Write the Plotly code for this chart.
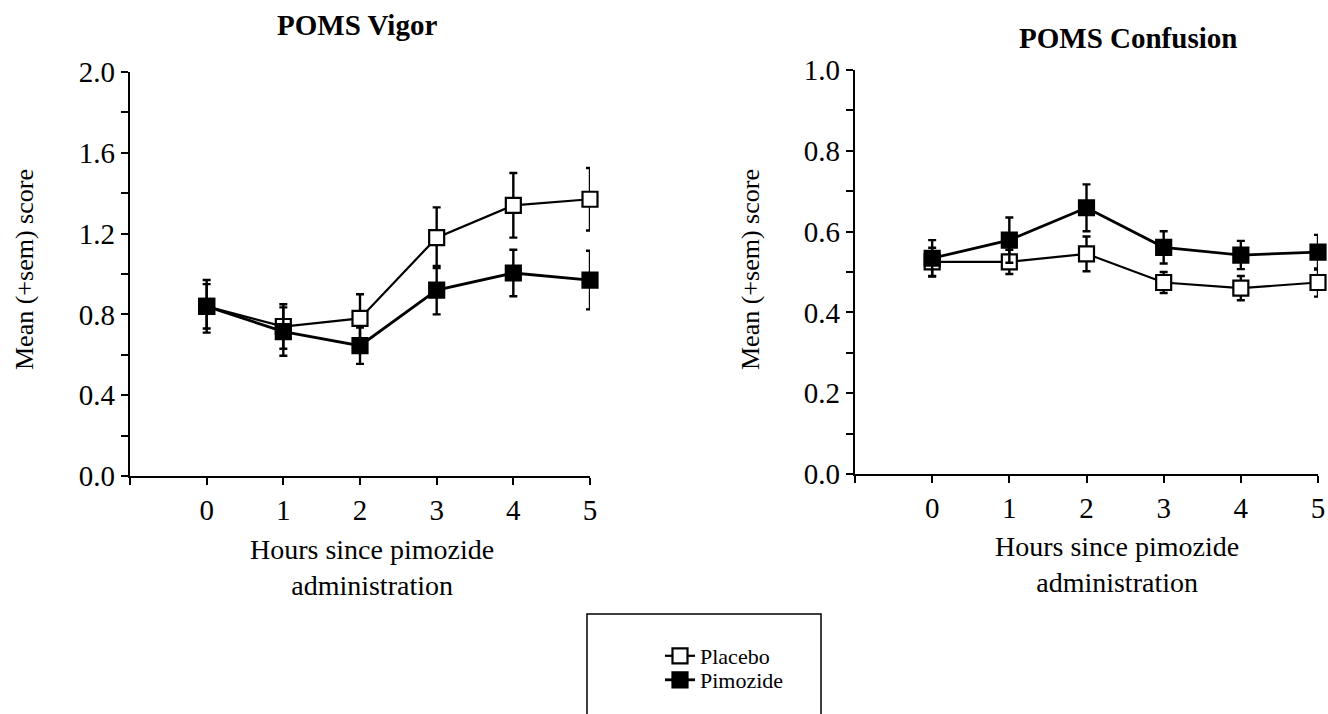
import plotly.graph_objects as go

# ---- data ----
hours = [0, 1, 2, 3, 4, 5]
x_tick_vals = [-1, 0, 1, 2, 3, 4, 5]
x_tick_text = ["", "0", "1", "2", "3", "4", "5"]

vigor_placebo = [0.84, 0.74, 0.78, 1.18, 1.34, 1.37]
vigor_placebo_sem = [0.13, 0.11, 0.12, 0.15, 0.16, 0.155]
vigor_pimozide = [0.84, 0.715, 0.645, 0.92, 1.005, 0.97]
vigor_pimozide_sem = [0.11, 0.12, 0.09, 0.12, 0.115, 0.145]

conf_placebo = [0.525, 0.525, 0.545, 0.474, 0.46, 0.474]
conf_placebo_sem = [0.035, 0.03, 0.043, 0.026, 0.03, 0.035]
conf_pimozide = [0.534, 0.579, 0.659, 0.561, 0.542, 0.549]
conf_pimozide_sem = [0.045, 0.056, 0.058, 0.04, 0.035, 0.043]

W, H = 1328, 714
FONT = "Liberation Serif, Times New Roman, serif"


def px(x):
    return x / W


def py(y):
    return 1 - y / H


fig = go.Figure()


def add_series(y, sem, name, filled, xa, ya, show, legend):
    fig.add_trace(go.Scatter(
        x=hours, y=y, name=name, mode="lines+markers",
        xaxis=xa, yaxis=ya, showlegend=show, legend=legend, cliponaxis=False,
        line=dict(color="black", width=2.8 if filled else 2.2),
        marker=dict(symbol="square", size=15,
                    color="black" if filled else "white",
                    line=dict(color="black", width=2.2)),
        error_y=dict(type="data", array=sem, visible=True,
                     color="black", thickness=2.4, width=4),
    ))


add_series(vigor_placebo, vigor_placebo_sem, "Placebo", False, "x", "y", True, "legend")
add_series(vigor_pimozide, vigor_pimozide_sem, "Pimozide", True, "x", "y", True, "legend2")
add_series(conf_placebo, conf_placebo_sem, "Placebo", False, "x2", "y2", False, "legend")
add_series(conf_pimozide, conf_pimozide_sem, "Pimozide", True, "x2", "y2", False, "legend2")

TICKFONT = dict(family=FONT, size=29, color="black")

xcommon = dict(range=[-1, 5], tickvals=x_tick_vals, ticktext=x_tick_text,
               showline=True, linewidth=2.4, linecolor="black",
               ticks="outside", ticklen=7, tickwidth=2.4, tickcolor="black",
               showgrid=False, zeroline=False, automargin=False,
               ticklabeloverflow="allow", tickfont=TICKFONT)

ycommon = dict(tick0=0, tickformat=".1f",
               showline=True, linewidth=2.4, linecolor="black",
               ticks="outside", ticklen=7, tickwidth=2.4, tickcolor="black",
               showgrid=False, zeroline=False, automargin=False,
               tickfont=TICKFONT)

LEGFONT = dict(family=FONT, size=22, color="black")

fig.update_layout(
    template="none",
    width=W, height=H,
    margin=dict(l=0, r=0, t=0, b=0, autoexpand=False),
    paper_bgcolor="white", plot_bgcolor="white",
    font=dict(family=FONT, color="black"),
    xaxis=dict(domain=[px(130), px(590)], anchor="y", **xcommon),
    xaxis2=dict(domain=[px(855), px(1318)], anchor="y2", **xcommon),
    yaxis=dict(domain=[py(476), py(72)], anchor="x", range=[0, 2], dtick=0.4,
               minor=dict(dtick=0.2, ticks="outside", ticklen=7,
                          tickwidth=2.4, tickcolor="black"),
               **ycommon),
    yaxis2=dict(domain=[py(474), py(70)], anchor="x2", range=[0, 1], dtick=0.2,
                minor=dict(dtick=0.1, ticks="outside", ticklen=7,
                           tickwidth=2.4, tickcolor="black"),
                **ycommon),
    legend=dict(x=px(660), y=py(656), xanchor="left", yanchor="middle",
                bgcolor="rgba(0,0,0,0)", borderwidth=0, font=LEGFONT),
    legend2=dict(x=px(660), y=py(680), xanchor="left", yanchor="middle",
                 bgcolor="rgba(0,0,0,0)", borderwidth=0, font=LEGFONT),
    showlegend=True,
)

annos = [
    dict(text="<b>POMS Vigor</b>", x=px(357), y=py(25), size=29),
    dict(text="<b>POMS Confusion</b>", x=px(1128), y=py(38), size=29),
    dict(text="Hours since pimozide<br>administration", x=px(372), y=py(567), size=28),
    dict(text="Hours since pimozide<br>administration", x=px(1117), y=py(564), size=28),
]
for a in annos:
    fig.add_annotation(text=a["text"], x=a["x"], y=a["y"], xref="paper", yref="paper",
                       xanchor="center", yanchor="middle", showarrow=False,
                       font=dict(family=FONT, size=a["size"], color="black"))

for xc in (24, 750):
    fig.add_annotation(text="Mean (+sem) score", x=px(xc), y=py(270),
                       xref="paper", yref="paper", textangle=-90,
                       xanchor="center", yanchor="middle", showarrow=False,
                       font=dict(family=FONT, size=26, color="black"))

# legend frame (extends past the bottom edge like the reference)
fig.add_shape(type="rect", xref="paper", yref="paper",
              x0=px(587), x1=px(821), y0=-0.1, y1=py(614),
              line=dict(color="black", width=1.5), fillcolor="rgba(0,0,0,0)")

# remove the browser's default 8px body margin so the figure fills the window
fig.write_html("out.html",
               config={"displayModeBar": False},
               post_script="document.body.style.margin='0';document.body.style.overflow='hidden';")
